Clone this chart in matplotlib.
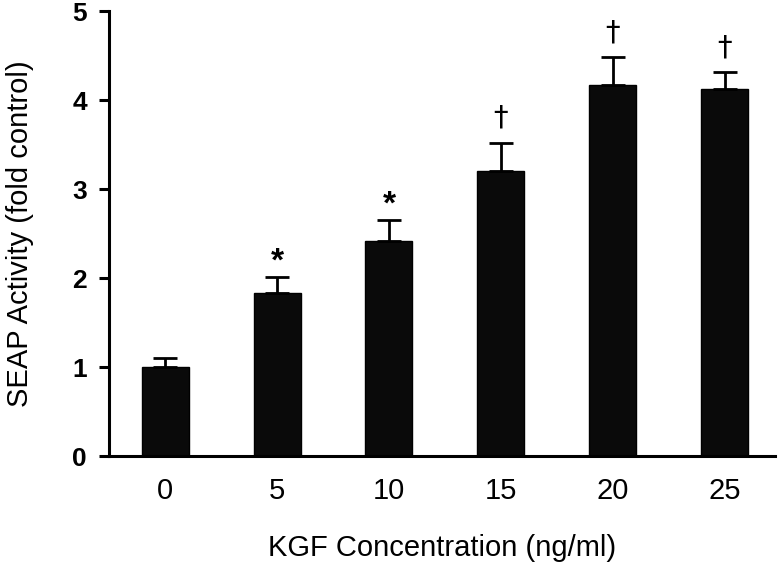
import matplotlib.pyplot as plt
import numpy as np

# KGF concentration (ng/ml) and SEAP activity (fold control)
concentrations = ['0', '5', '10', '15', '20', '25']
activity = [1.00, 1.83, 2.42, 3.20, 4.17, 4.12]
errors = [0.10, 0.18, 0.23, 0.32, 0.31, 0.19]
marks = ['', '*', '*', '\u2020', '\u2020', '\u2020']

fig = plt.figure(figsize=(7.84, 5.62), dpi=100)
ax = fig.add_axes([0.1394, 0.1886, 0.8491, 0.7918])

x = np.arange(len(concentrations))
ax.bar(x, activity, width=0.42, color='#0a0a0a', edgecolor='black', linewidth=1)
ax.errorbar(x, activity, yerr=[np.zeros(len(errors)), errors], fmt='none',
            ecolor='black', elinewidth=2, capsize=8.5, capthick=2)

# significance marks above the error bars
for xi, yi, ei, m in zip(x, activity, errors, marks):
    if not m:
        continue
    if m == '*':
        ax.annotate(m, (xi, yi + ei), xytext=(0, 0), textcoords='offset points',
                    ha='center', va='bottom', fontsize=24, fontweight='bold',
                    family='Liberation Sans')
    else:
        ax.annotate(m, (xi, yi + ei), xytext=(0, 8), textcoords='offset points',
                    ha='center', va='bottom', fontsize=21, family='DejaVu Sans')

ax.set_xlim(-0.5, 5.45)
ax.set_ylim(0, 5)
ax.set_yticks([0, 1, 2, 3, 4, 5])
ax.set_xticks(x)
ax.set_xticklabels(concentrations, fontsize=21, family='Liberation Sans')
ax.tick_params(axis='x', length=0, pad=15)
ax.tick_params(axis='y', length=7, width=2.2, pad=9, direction='out')
for lab in ax.get_yticklabels():
    lab.set_family(['Liberation Sans Narrow', 'Liberation Sans'])
    lab.set_fontweight('bold')
    lab.set_fontsize(19)
    lab.set_fontstretch('condensed')

for side in ['top', 'right']:
    ax.spines[side].set_visible(False)
for side in ['left', 'bottom']:
    ax.spines[side].set_linewidth(2.2)

ax.set_xlabel('KGF Concentration (ng/ml)', fontsize=21, family='Liberation Sans')
ax.set_ylabel('SEAP Activity (fold control)', fontsize=21, family='Liberation Sans')
ax.yaxis.set_label_coords(-0.113, 0.5)
ax.xaxis.set_label_coords(0.5, -0.176)

fig.savefig('out.png', dpi=100)
